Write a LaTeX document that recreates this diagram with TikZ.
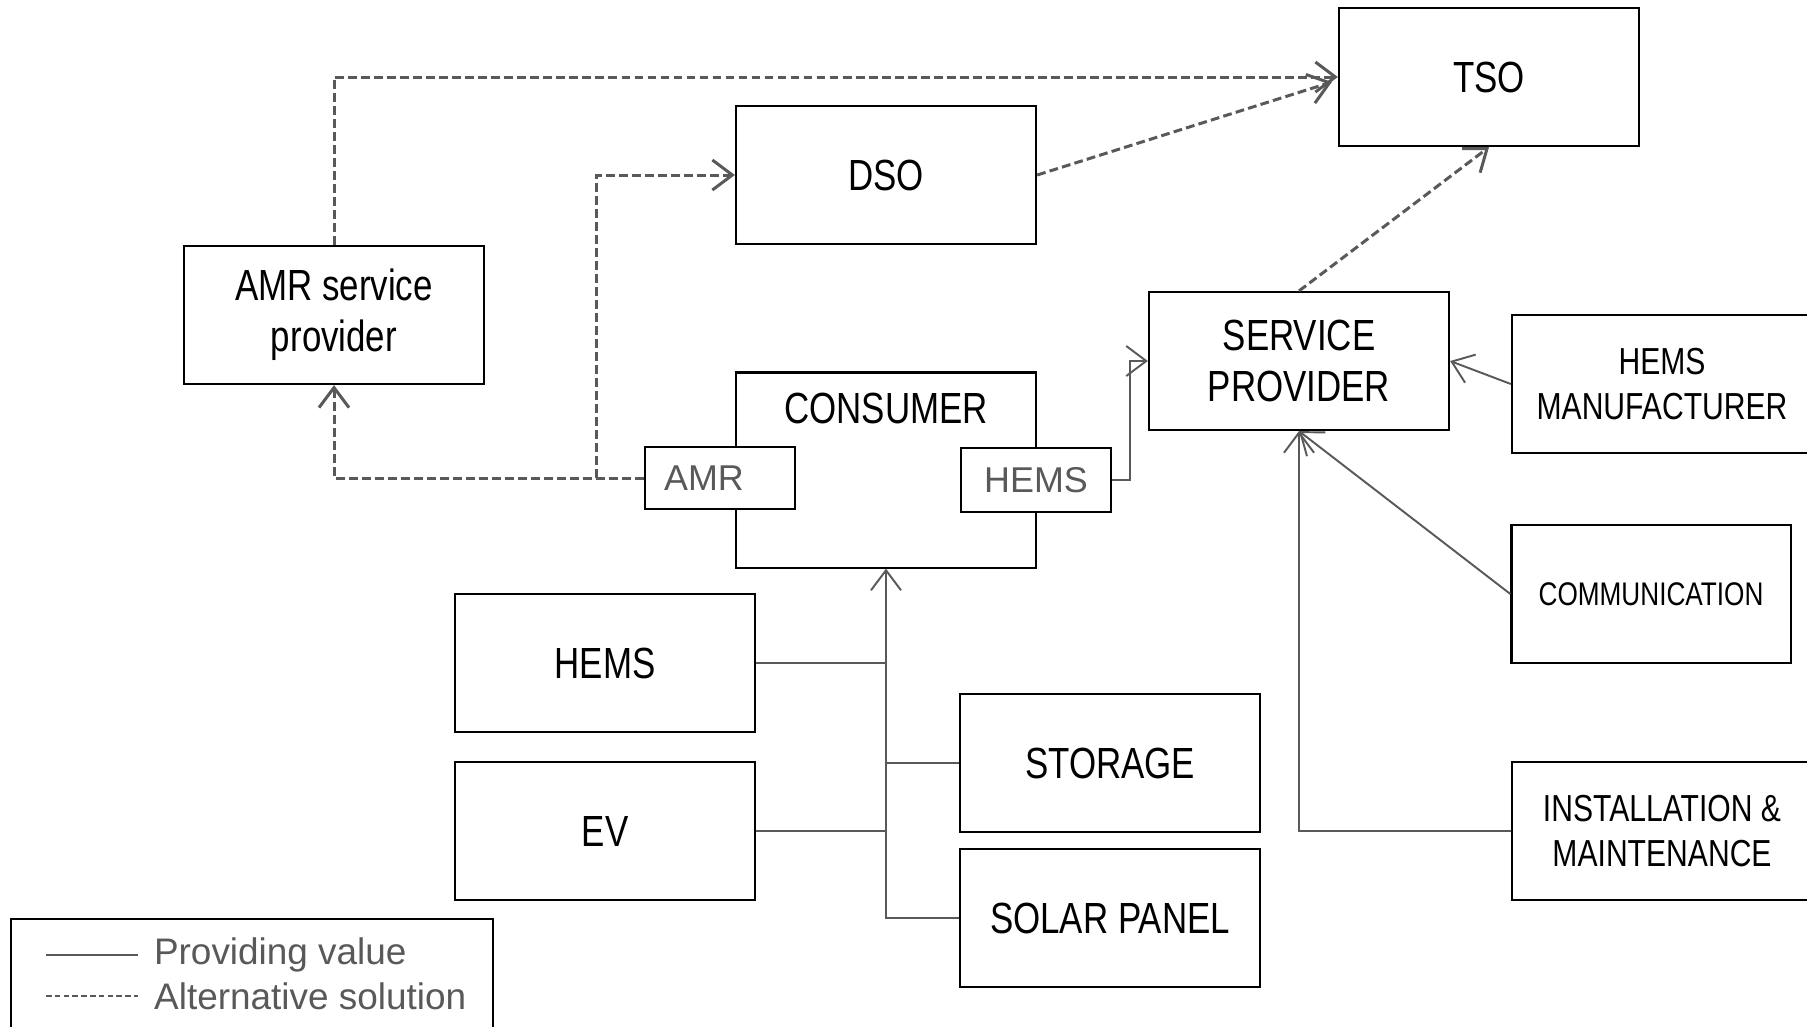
\documentclass[tikz,border=0pt]{standalone}
\usepackage{fontspec}
\setmainfont{Liberation Sans}
\newfontfamily\narrowfont[FakeStretch=0.8]{Liberation Sans}
\definecolor{flowgray}{RGB}{89,89,89}
\usepackage{tikz}
\usetikzlibrary{arrows.meta,positioning,calc}

\begin{document}
\begin{tikzpicture}[x=0.01cm, y=-0.01cm,
    >={Straight Barb[length=2mm,width=3mm]},
    box/.style={draw, line width=0.6pt, minimum width=3cm, minimum height=1.38cm,
        inner sep=0pt, align=center, font=\narrowfont\fontsize{12.4}{14.4}\selectfont},
    smallbox/.style={box, font=\narrowfont\fontsize{10.7}{12.8}\selectfont},
    tag/.style={draw, fill=white, line width=0.6pt, minimum width=1.5cm, minimum height=0.62cm,
        inner sep=0pt, text=flowgray, font=\fontsize{10.2}{12}\selectfont},
    link/.style={draw=flowgray, line width=0.55pt},
    flow/.style={link, ->},
    alt/.style={flow, line width=0.85pt, dash pattern=on 2.5pt off 1.2pt}]
    \clip (0,0) rectangle (1807,1026);

    \node[box] (tso) at (1489,77) {TSO};
    \node[box] (dso) at (886,175) {DSO};
    \node[box] (amrsp) at (334,315) {AMR service\\provider};
    \node[box] (sp) at (1299,361) {SERVICE\\PROVIDER};
    \node[smallbox] (hemsm) at (1662,384) {HEMS\\MANUFACTURER};
    \node[box, minimum width=2.79cm, font=\narrowfont\fontsize{9.3}{11}\selectfont] (comm) at (1651,594) {COMMUNICATION};
    \node[smallbox] (inst) at (1662,831) {INSTALLATION \&\\MAINTENANCE};

    \node[box, minimum height=1.95cm] (consumer) at (886,470) {};
    \node[inner sep=0pt, font=\narrowfont\fontsize{12.4}{14.4}\selectfont, below=0.21cm of consumer.north] (consumertext) {CONSUMER};
    \node[tag] (amr) at (720,478) {AMR\kern3.2mm};
    \node[tag, minimum height=0.64cm] (hemstag) at (1036,480) {HEMS};

    \node[box] (hems) at (605,663) {HEMS};
    \node[box] (storage) at (1110,763) {STORAGE};
    \node[box] (ev) at (605,831) {EV};
    \node[box] (solar) at (1110,918) {SOLAR PANEL};

    \draw[alt] (amrsp.north) |- (tso.west);
    \draw[alt] (dso.east) -- ([xshift=-0.06cm,yshift=-0.05cm]tso.west);
    \draw[alt] (sp.north) -- (tso.south);
    \draw[alt] (amr.west) -| (amrsp.south);
    \coordinate (amrjoint) at ($(amr.west)+(-47,0)$);
    \draw[alt] (amrjoint) |- (dso.west);

    \coordinate (hemsjoint) at ($(hemstag.east)!.5!(sp.west |- hemstag.east)$);
    \draw[flow] (hemstag.east) -- (hemsjoint) |- (sp.west);
    \draw[flow] (hemsm.west) -- (sp.east);
    \draw[flow] (comm.west) -- (sp.south);
    \draw[flow] (inst.west) -| (sp.south);

    \draw[flow] (solar.west) -| (consumer.south);
    \draw[link] (hems.east) -- (hems.east -| consumer.south);
    \draw[link] (storage.west) -- (storage.west -| consumer.south);
    \draw[link] (ev.east) -- (ev.east -| consumer.south);

    \node[draw, line width=0.6pt, minimum width=4.82cm, minimum height=1.3cm, anchor=north west] (legend) at (10,918) {};
    \coordinate (solidkey) at (46,955);
    \coordinate (dashkey) at (46,996);
    \draw[link, line width=0.6pt] (solidkey) -- ++(92,0) node[right, inner sep=1.5mm, text=flowgray, font=\fontsize{10.5}{12}\selectfont] (solidtext) {Providing value};
    \draw[link, line width=0.7pt, dash pattern=on 1.6pt off 0.9pt] (dashkey) -- ++(92,0) node[right, inner sep=1.5mm, text=flowgray, font=\fontsize{10.5}{12}\selectfont] (dashtext) {Alternative solution};
\end{tikzpicture}
\end{document}
